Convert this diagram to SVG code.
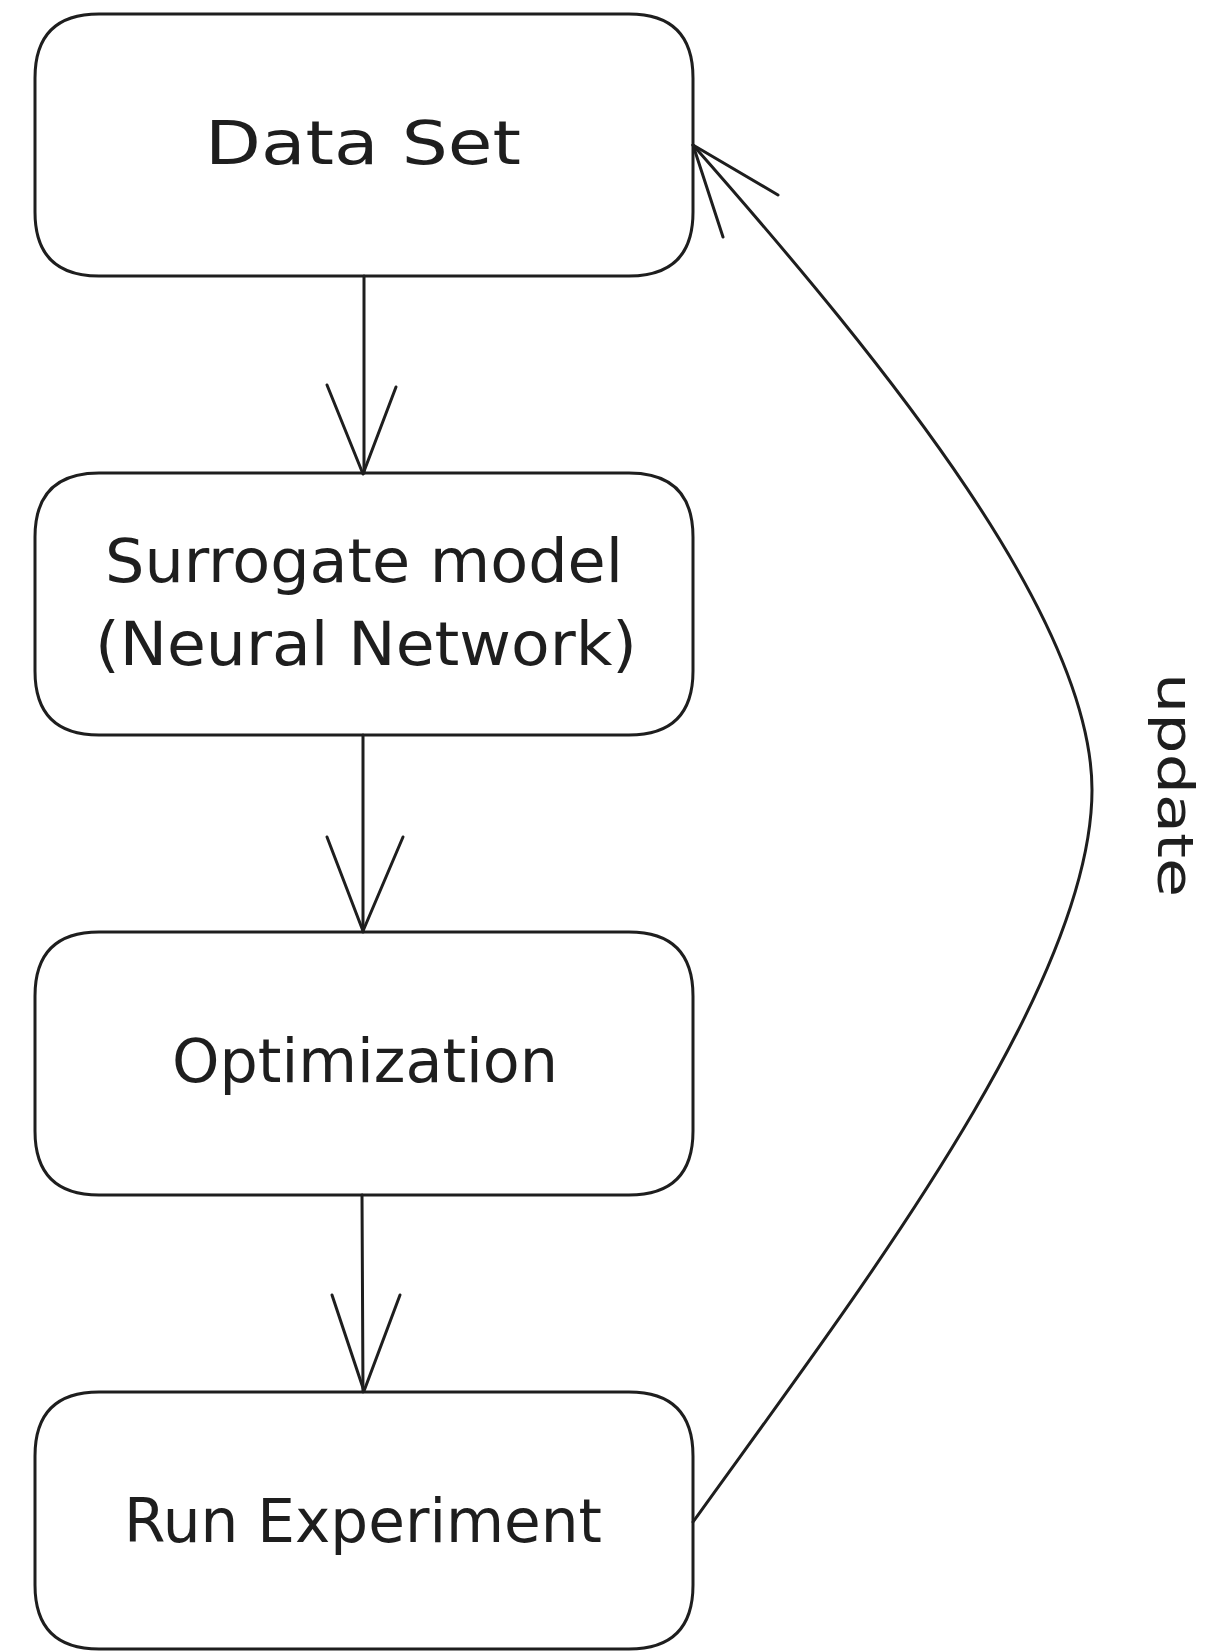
<svg xmlns="http://www.w3.org/2000/svg" width="1212" height="1651" viewBox="0 0 1212 1651">
  <style>
    .box { fill: #ffffff; stroke: #1e1e1e; stroke-width: 3; stroke-linejoin: round; }
    .label { font-family: "DejaVu Sans", "Liberation Sans", sans-serif; font-size: 60px; fill: #1e1e1e; text-anchor: middle; }
    .side { font-size: 50px; }
    .edge { fill: none; stroke: #1e1e1e; stroke-width: 3; stroke-linecap: round; stroke-linejoin: round; }
  </style>
  <rect x="0" y="0" width="1212" height="1651" fill="#ffffff"/>

  <!-- process steps, top to bottom -->
  <g id="node-data-set">
    <path class="box" d="M99,14 L629,14 Q693,14 693,78 L693,212 Q693,276 629,276 L99,276 Q35,276 35,212 L35,78 Q35,14 99,14 Z"/>
    <text class="label" x="363" y="164" textLength="316" lengthAdjust="spacingAndGlyphs">Data Set</text>
  </g>

  <g id="node-surrogate-model">
    <path class="box" d="M99,473 L629,473 Q693,473 693,537 L693,671 Q693,735 629,735 L99,735 Q35,735 35,671 L35,537 Q35,473 99,473 Z"/>
    <text class="label" x="364" y="582" textLength="518" lengthAdjust="spacingAndGlyphs">Surrogate model</text>
    <text class="label" x="366" y="665" textLength="542" lengthAdjust="spacingAndGlyphs">(Neural Network)</text>
  </g>

  <g id="node-optimization">
    <path class="box" d="M99,932 L629,932 Q693,932 693,996 L693,1131 Q693,1195 629,1195 L99,1195 Q35,1195 35,1131 L35,996 Q35,932 99,932 Z"/>
    <text class="label" x="365" y="1082" textLength="386" lengthAdjust="spacingAndGlyphs">Optimization</text>
  </g>

  <g id="node-run-experiment">
    <path class="box" d="M99,1392 L629,1392 Q693,1392 693,1456 L693,1585 Q693,1649 629,1649 L99,1649 Q35,1649 35,1585 L35,1456 Q35,1392 99,1392 Z"/>
    <text class="label" x="363" y="1542" textLength="478" lengthAdjust="spacingAndGlyphs">Run Experiment</text>
  </g>

  <!-- connectors -->
  <g id="connectors">
    <g id="edge-data-to-surrogate">
      <path class="edge" d="M364,276 L364,473"/>
      <path class="edge" d="M327,385 L363,474 L396,387"/>
    </g>
    <g id="edge-surrogate-to-optimization">
      <path class="edge" d="M363,735 L363,932"/>
      <path class="edge" d="M327,837 L363,931 L403,837"/>
    </g>
    <g id="edge-optimization-to-experiment">
      <path class="edge" d="M362,1195 L363,1392"/>
      <path class="edge" d="M332,1295 L364,1391 L400,1295"/>
    </g>
    <g id="edge-update">
      <path class="edge" d="M693,1522 C850,1303 1092,990 1092,790 C1092,620 891,370 693,145"/>
      <path class="edge" d="M778,195 L693,145 L723,237"/>
      <text class="label side" transform="translate(1158,785) rotate(90)" x="0" y="0" textLength="224" lengthAdjust="spacingAndGlyphs">update</text>
    </g>
  </g>
</svg>
